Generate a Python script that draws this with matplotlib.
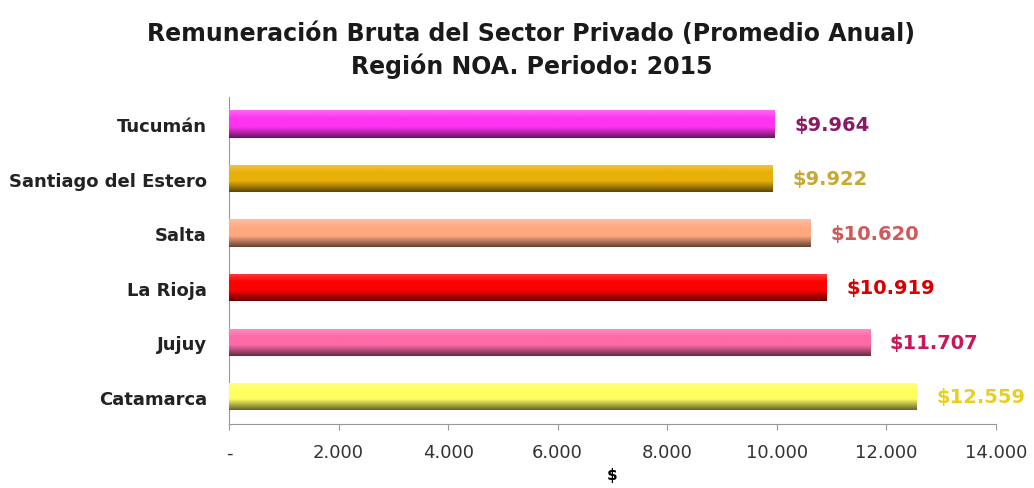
import numpy as np
import matplotlib.pyplot as plt
from matplotlib.colors import to_rgb

regiones = ['Tucumán', 'Santiago del Estero', 'Salta', 'La Rioja', 'Jujuy', 'Catamarca']
valores = [9964, 9922, 10620, 10919, 11707, 12559]
etiquetas = ['$9.964', '$9.922', '$10.620', '$10.919', '$11.707', '$12.559']
colores_barra = ['#ff33f0', '#eab008', '#ffa880', '#ff0000', '#ff6aa8', '#ffff60']
colores_texto = ['#8a1a66', '#c8a832', '#d05a5a', '#d40000', '#c8185a', '#e8d020']
xticks = [0, 2000, 4000, 6000, 8000, 10000, 12000, 14000]
xticklabels = ['-', '2.000', '4.000', '6.000', '8.000', '10.000', '12.000', '14.000']


def gradiente(color, n=64):
    """Vertical shading: light on top, base colour, dark at the bottom."""
    c = np.array(to_rgb(color))
    t = np.linspace(0, 1, n)  # 0 = top, 1 = bottom
    rows = []
    for v in t:
        if v < 0.3:
            k = 0.25 * (1 - v / 0.3)
            rows.append(c + (1 - c) * k)
        elif v < 0.6:
            rows.append(c)
        else:
            k = (v - 0.6) / 0.4
            rows.append(c * (1 - 0.6 * k))
    return np.clip(np.array(rows), 0, 1)[:, None, :]


plt.rcParams['font.family'] = ['DejaVu Sans']

fig = plt.figure(figsize=(10.34, 4.89), dpi=100)
ax = fig.add_axes([0.2215, 0.131, 0.7415, 0.669])

y = np.arange(len(regiones))
h = 0.5
bars = ax.barh(y, valores, height=h, color=colores_barra, zorder=2)

for b, col, val, txt, tc in zip(bars, colores_barra, valores, etiquetas, colores_texto):
    x0, y0 = b.get_x(), b.get_y()
    im = ax.imshow(gradiente(col), extent=[x0, x0 + b.get_width(), y0 + b.get_height(), y0],
                   aspect='auto', zorder=3, interpolation='bilinear')
    im.set_clip_path(b)
    ax.text(val + 360, y0 + b.get_height() / 2, txt, color=tc, fontsize=14,
            fontweight='bold', va='center', ha='left')

ax.set_ylim(len(regiones) - 0.5, -0.5)
ax.set_xlim(0, 14000)
ax.set_yticks(y)
ax.set_yticklabels(regiones, fontsize=13, fontweight='bold', color='#222222')
ax.set_xticks(xticks)
ax.set_xticklabels(xticklabels, fontsize=13, color='#333333')
ax.tick_params(axis='y', length=0, pad=16)
ax.tick_params(axis='x', length=4, color='#999999', pad=10)
ax.set_xlabel('$', fontsize=11, fontweight='bold', labelpad=4)

for s in ['top', 'right']:
    ax.spines[s].set_visible(False)
for s in ['left', 'bottom']:
    ax.spines[s].set_color('#999999')

fig.text(0.514, 0.93, 'Remuneración Bruta del Sector Privado (Promedio Anual)',
         ha='center', va='center', fontsize=17, fontweight='bold', color='#1a1a1a')
fig.text(0.514, 0.865, 'Región NOA. Periodo: 2015',
         ha='center', va='center', fontsize=17, fontweight='bold', color='#1a1a1a')

fig.savefig('out.png', dpi=100)
